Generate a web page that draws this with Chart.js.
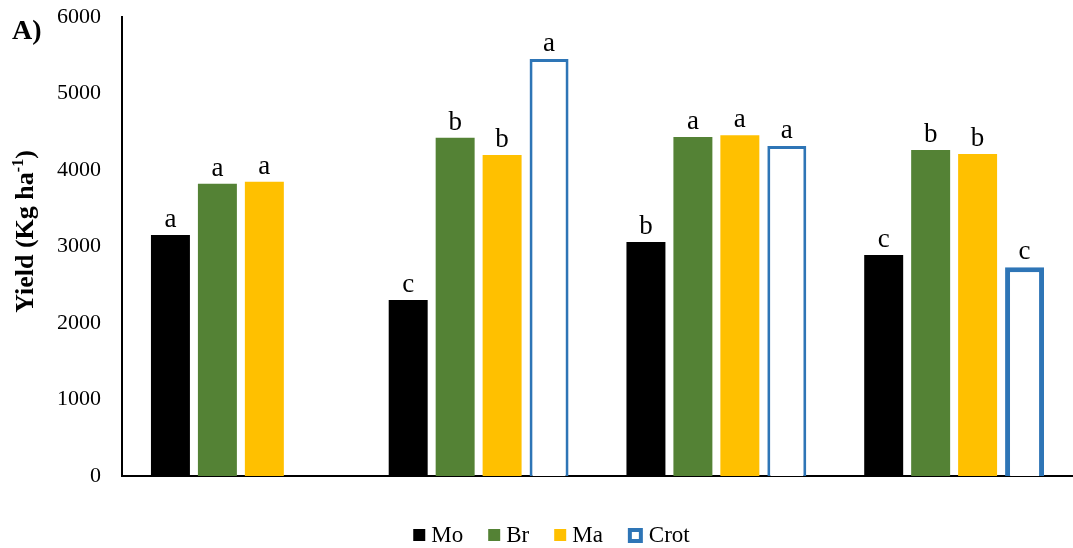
<!DOCTYPE html>
<html>
<head>
<meta charset="utf-8">
<script src="https://cdn.jsdelivr.net/npm/chart.js@4.4.1/dist/chart.umd.min.js"></script>
<style>
  html, body { margin: 0; padding: 0; background: #fff; }
  #wrap { width: 1073px; height: 548px; position: relative; }
</style>
</head>
<body>
<div id="wrap"><canvas id="yieldChart"></canvas></div>
<script>
'use strict';

// ---- data ----
const groups     = ['1', '2', '3', '4'];
const moYield    = [3150, 2300, 3060, 2890];
const brYield    = [3820, 4420, 4430, 4260];
const maYield    = [3845, 4195, 4455, 4210];
const crotYield  = [null, 5450, 4315, 2730];

const moLetters   = ['a', 'c', 'b', 'c'];
const brLetters   = ['a', 'b', 'a', 'b'];
const maLetters   = ['a', 'b', 'a', 'b'];
const crotLetters = ['',  'a', 'a', 'c'];

const yTicks = [0, 1000, 2000, 3000, 4000, 5000, 6000];

const SERIF = "'Liberation Serif', 'Times New Roman', serif";

// letters above each bar
const letterPlugin = {
    id: 'letters',
    afterDatasetsDraw(chart) {
        const ctx = chart.ctx;
        ctx.save();
        ctx.font = '27px ' + SERIF;
        ctx.fillStyle = '#000';
        ctx.textAlign = 'center';
        ctx.textBaseline = 'alphabetic';
        chart.data.datasets.forEach((ds, i) => {
            const meta = chart.getDatasetMeta(i);
            meta.data.forEach((bar, j) => {
                const txt = ds.letters[j];
                if (!txt || ds.data[j] == null) return;
                ctx.fillText(txt, bar.x, bar.y - 8);
            });
        });
        ctx.restore();
    }
};

// y title with superscript, panel tag and the legend row
const decoPlugin = {
    id: 'deco',
    afterDraw(chart) {
        const ctx = chart.ctx;
        const area = chart.chartArea;
        ctx.save();
        ctx.fillStyle = '#000';
        ctx.font = 'bold 28px ' + SERIF;
        ctx.textBaseline = 'alphabetic';
        ctx.textAlign = 'left';
        ctx.fillText('A)', 12, 39);

        // rotated axis title
        ctx.save();
        ctx.translate(33, (area.top + area.bottom) / 2 - 15);
        ctx.rotate(-Math.PI / 2);
        const main = 'Yield (Kg ha';
        const sup  = '-1';
        const tail = ')';
        ctx.font = 'bold 26px ' + SERIF;
        const w1 = ctx.measureText(main).width;
        const w3 = ctx.measureText(tail).width;
        ctx.font = 'bold 16px ' + SERIF;
        const w2 = ctx.measureText(sup).width;
        let x = -(w1 + w2 + w3) / 2;
        ctx.font = 'bold 26px ' + SERIF;
        ctx.fillText(main, x, 0);
        x += w1;
        ctx.font = 'bold 16px ' + SERIF;
        ctx.fillText(sup, x, -10);
        x += w2;
        ctx.font = 'bold 26px ' + SERIF;
        ctx.fillText(tail, x, 0);
        ctx.restore();

        // legend
        const items = chart.data.datasets;
        ctx.font = '23px ' + SERIF;
        const box = 12, gapBox = 6, gapItem = 25;
        let total = 0;
        items.forEach((ds, i) => {
            total += box + gapBox + ctx.measureText(ds.label).width;
            if (i < items.length - 1) total += gapItem;
        });
        let lx = 550 - total / 2;
        const cy = 535;
        items.forEach(ds => {
            if (ds.legendOutline) {
                ctx.fillStyle = ds.borderColor;
                ctx.fillRect(lx, cy - 7, box + 3, box + 3);
                ctx.fillStyle = '#fff';
                ctx.fillRect(lx + 4, cy - 3, box - 5, box - 5);
                lx += 3;
            } else {
                ctx.fillStyle = ds.backgroundColor;
                ctx.fillRect(lx, cy - 6, box, box);
            }
            lx += box + gapBox;
            ctx.fillStyle = '#000';
            ctx.textBaseline = 'middle';
            ctx.fillText(ds.label, lx, cy + 1);
            lx += ctx.measureText(ds.label).width + gapItem;
        });
        ctx.restore();
    }
};

const canvas = document.getElementById('yieldChart');
new Chart(canvas, {
    type: 'bar',
    data: {
        labels: groups,
        datasets: [
            { label: 'Mo',   data: moYield,   letters: moLetters,   backgroundColor: '#000000', borderColor: '#000000', borderWidth: 0 },
            { label: 'Br',   data: brYield,   letters: brLetters,   backgroundColor: '#548235', borderColor: '#548235', borderWidth: 0 },
            { label: 'Ma',   data: maYield,   letters: maLetters,   backgroundColor: '#FFC000', borderColor: '#FFC000', borderWidth: 0 },
            { label: 'Crot', data: crotYield, letters: crotLetters, backgroundColor: '#FFFFFF', borderColor: '#2E75B6',
              legendOutline: true, borderWidth: ctx => ctx.dataIndex === 3 ? 5 : 3 }
        ]
    },
    options: {
        responsive: true,
        maintainAspectRatio: false,
        animation: false,
        categoryPercentage: 0.79,
        barPercentage: 0.83,
        layout: { padding: { top: 17, right: 0, left: 0, bottom: 72 } },
        plugins: {
            tooltip: { enabled: false },
            legend: { display: false }
        },
        scales: {
            x: {
                grid: { display: false, drawTicks: false },
                border: { display: true, color: '#000', width: 2 },
                ticks: { display: false }
            },
            y: {
                min: 0,
                max: 6000,
                afterFit: scale => {
                    scale.width = 122;
                    scale.paddingTop = 0;
                    scale.paddingBottom = 0;
                },
                afterBuildTicks: scale => { scale.ticks = yTicks.map(v => ({ value: v })); },
                grid: { display: false, drawTicks: false },
                border: { display: true, color: '#000', width: 2 },
                ticks: {
                    color: '#000',
                    font: { family: SERIF, size: 22 },
                    padding: 21,
                    callback: v => String(v)
                }
            }
        }
    },
    plugins: [letterPlugin, decoPlugin]
});
</script>
</body>
</html>
